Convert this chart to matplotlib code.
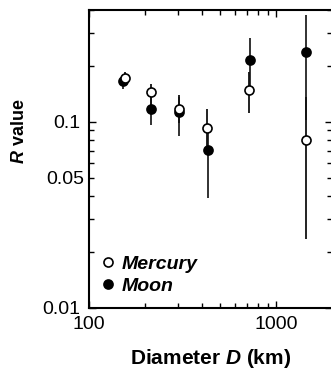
import matplotlib
matplotlib.use("Agg")
import matplotlib.pyplot as plt
from matplotlib.ticker import FixedLocator, FuncFormatter, NullFormatter

plt.rcParams["font.family"] = ["Liberation Sans", "DejaVu Sans"]
plt.rcParams["mathtext.fontset"] = "custom"
plt.rcParams["mathtext.it"] = "Liberation Sans:italic:bold"
plt.rcParams["mathtext.rm"] = "Liberation Sans:bold"

# values
diam_mercury = [155, 214, 303, 429, 720, 1435]
diam_moon = [152, 215, 304, 430, 721, 1436]

r_mercury = [0.173, 0.145, 0.1175, 0.0925, 0.149, 0.0798]
r_mercury_hi = [0.185, 0.1606, 0.140, 0.118, 0.186, 0.136]
r_mercury_lo = [0.162, 0.123, 0.0984, 0.0723, 0.111, 0.0234]

r_moon = [0.167, 0.1166, 0.113, 0.0705, 0.216, 0.237]
r_moon_hi = [0.176, 0.136, 0.136, 0.0902, 0.282, 0.375]
r_moon_lo = [0.151, 0.0968, 0.084, 0.0387, 0.1556, 0.102]

fig = plt.figure(figsize=(3.31, 3.78), dpi=100)
ax = fig.add_axes([0.269, 0.186, 0.7355, 0.7875])

err_merc = [[r - lo for r, lo in zip(r_mercury, r_mercury_lo)],
            [hi - r for r, hi in zip(r_mercury, r_mercury_hi)]]
err_moon = [[r - lo for r, lo in zip(r_moon, r_moon_lo)],
            [hi - r for r, hi in zip(r_moon, r_moon_hi)]]

ax.errorbar(diam_moon, r_moon, yerr=err_moon, fmt="none", ecolor="#222222",
            elinewidth=1.3, capsize=0, zorder=2)
ax.errorbar(diam_mercury, r_mercury, yerr=err_merc, fmt="none", ecolor="#111111",
            elinewidth=1.3, capsize=0, zorder=2)
ax.plot(diam_moon, r_moon, "o", color="black", ms=6.5, mew=1.2, zorder=3, label="Moon")
ax.plot(diam_mercury, r_mercury, "o", mfc="white", mec="black", ms=6.5, mew=1.2,
        zorder=4, label="Mercury")

ax.set_xscale("log")
ax.set_yscale("log")
ax.set_xlim(100, 2000)
ax.set_ylim(0.01, 0.4)

ax.xaxis.set_major_locator(FixedLocator([100, 1000]))
ax.xaxis.set_major_formatter(FuncFormatter(lambda v, p: "%d" % v))
ax.xaxis.set_minor_locator(FixedLocator([200, 300, 400, 500, 600, 700, 800, 900, 2000]))
ax.xaxis.set_minor_formatter(NullFormatter())

ax.yaxis.set_major_locator(FixedLocator([0.01, 0.1]))
ax.yaxis.set_major_formatter(FuncFormatter(lambda v, p: "%g" % v))
ax.yaxis.set_minor_locator(FixedLocator([0.02, 0.03, 0.04, 0.05, 0.06, 0.07, 0.08, 0.09,
                                         0.2, 0.3, 0.4]))
ax.yaxis.set_minor_formatter(FuncFormatter(lambda v, p: "0.05" if abs(v - 0.05) < 1e-6 else ""))

ax.tick_params(which="both", direction="in", top=True, right=True, labelsize=14, width=1)
ax.tick_params(which="major", length=5)
ax.tick_params(which="minor", length=3.5)
ax.tick_params(axis="y", pad=6)
ax.tick_params(axis="x", pad=6)
for s in ax.spines.values():
    s.set_linewidth(1.5)

ax.set_xlabel("Diameter $D$ (km)", fontsize=15, fontweight="bold", labelpad=10)
ax.set_ylabel("$R$ value", fontsize=13, fontweight="bold")
ax.yaxis.set_label_coords(-0.25, 0.594)

h, l = ax.get_legend_handles_labels()
leg = ax.legend(h[::-1], l[::-1], loc="lower left", frameon=False, handlelength=0.6,
                handletextpad=0.45, borderaxespad=0.25, labelspacing=0.25,
                prop={"weight": "bold", "style": "italic", "size": 14})

fig.savefig("out.png", dpi=100)
